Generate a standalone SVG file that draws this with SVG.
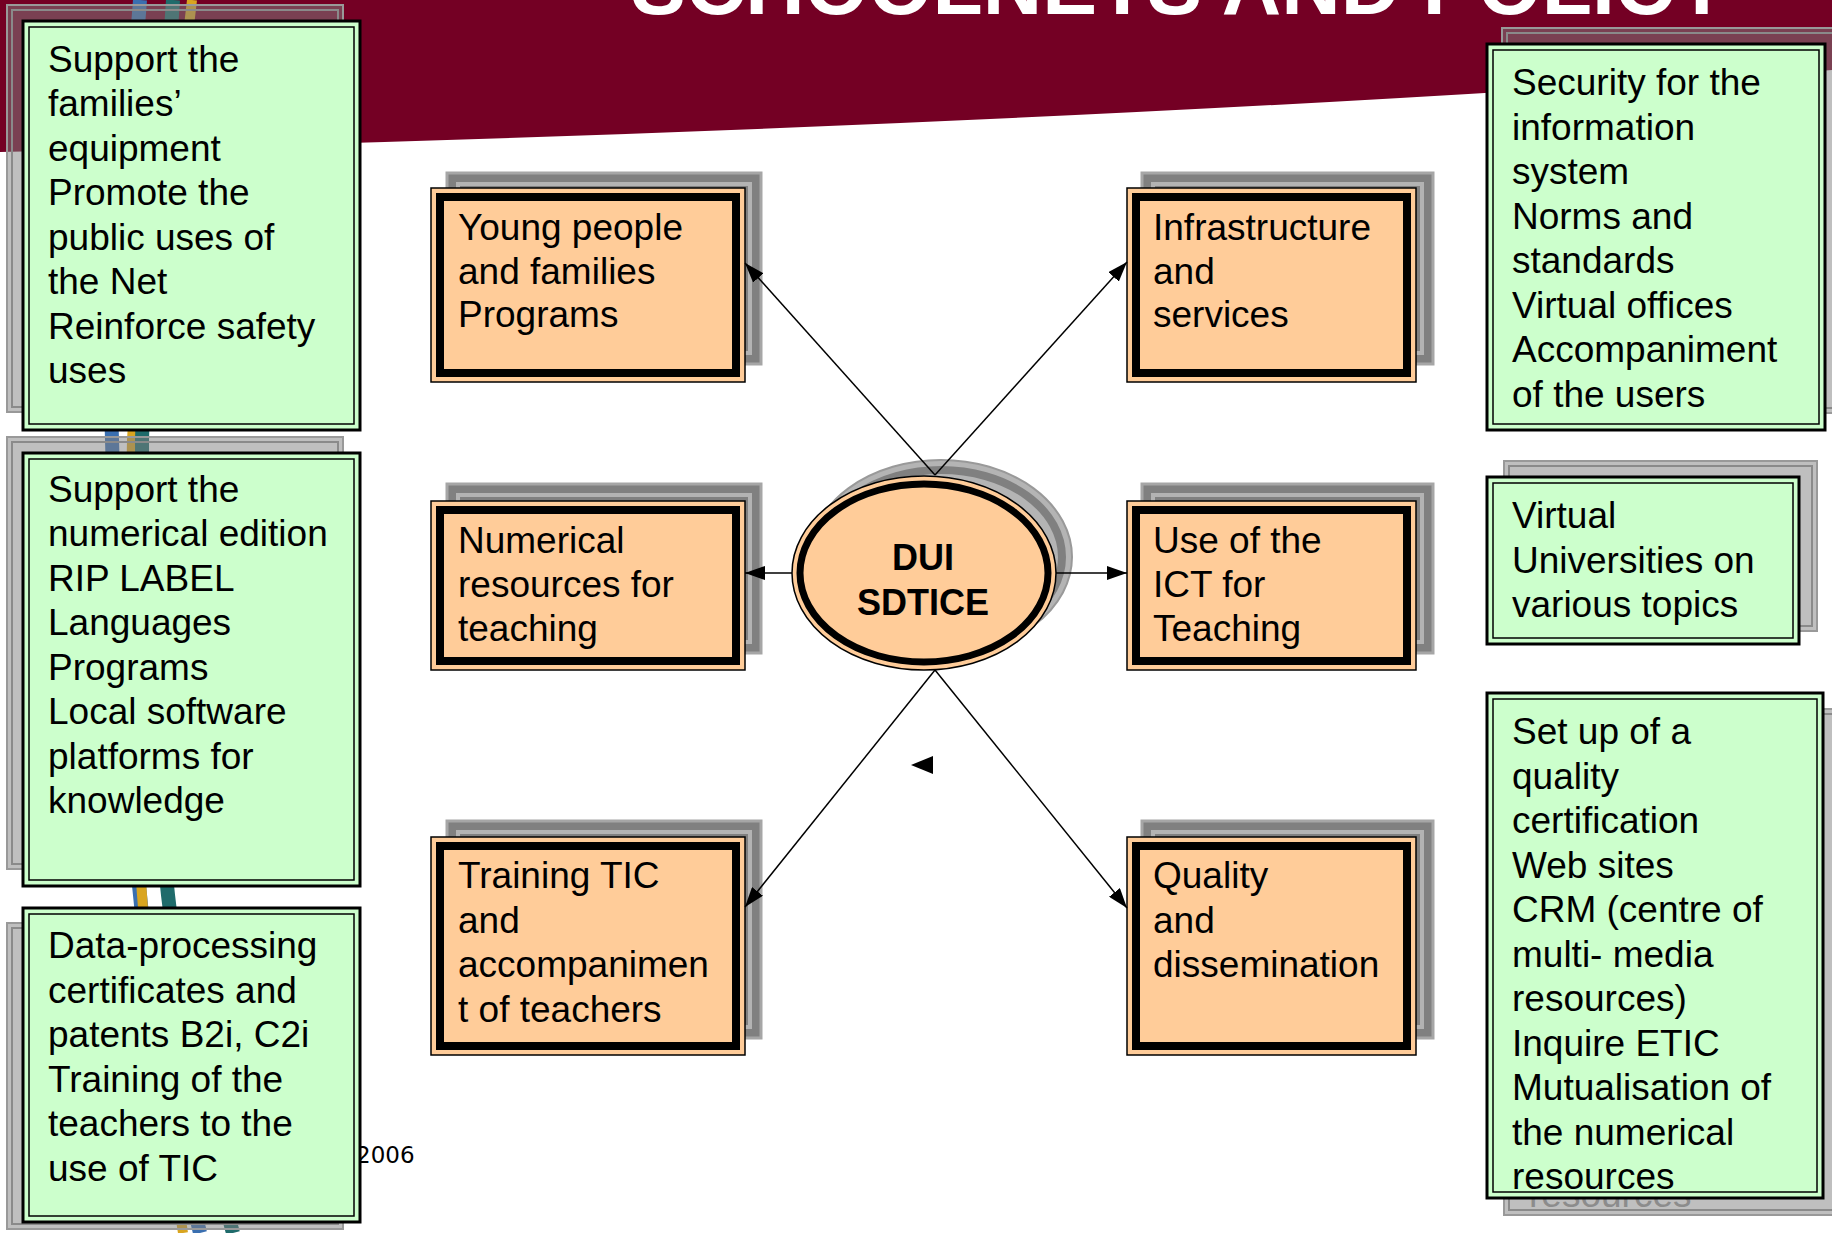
<svg xmlns="http://www.w3.org/2000/svg" width="1832" height="1233" viewBox="0 0 1832 1233">
<defs>
<style>
.t{font-family:"Liberation Sans",Arial,sans-serif;font-size:37px;fill:#000}
.tb{font-family:"Liberation Sans",Arial,sans-serif;font-size:36px;font-weight:bold;fill:#000}
.gsh{fill:#808080;fill-opacity:.5;stroke:#999;stroke-width:2}
.gshi{fill:none;stroke:#8a8a8a;stroke-width:2}
.gb{fill:#CCFFCC;stroke:#000;stroke-width:3}
.gbi{fill:none;stroke:#000;stroke-width:1.5}
.osh{fill:#808080;stroke:#A6A6A6;stroke-width:3}
.oshi{fill:none;stroke:#B3B3B3;stroke-width:4}
.ob{fill:#FFCC99;stroke:#000;stroke-width:1.5}
.obi{fill:none;stroke:#000;stroke-width:8}
.c{stroke:#000;stroke-width:1.5;fill:none}
</style>
<marker id="ah" markerUnits="userSpaceOnUse" markerWidth="20" markerHeight="14" refX="20" refY="7" orient="auto">
<path d="M0,0 L20,7 L0,14 Z" fill="#000"/>
</marker>
</defs>
<rect x="0" y="0" width="1832" height="1233" fill="#fff"/>
<path d="M0,0 H1832 V70 Q1000,130 0,152 Z" fill="#740024"/>
<text x="631" y="14" textLength="1098" lengthAdjust="spacingAndGlyphs" style="font-family:'Liberation Sans',Arial,sans-serif;font-size:82px;font-weight:bold;fill:#fff">SCHOOLNETS AND POLICY</text>
<path d="M1640,1196 Q1730,1186 1800,1196" fill="none" stroke="#d9a0a8" stroke-width="6"/>
<g id="cables" fill="none">
<path d="M140,0 C125,200 108,330 112,440 C116,600 130,800 140,895 C150,1000 180,1150 200,1233" stroke="#3A6FB0" stroke-width="14"/>
<path d="M192,0 C170,200 138,330 132,440 C128,600 135,800 142,895 C150,1000 170,1150 183,1233" stroke="#D9A520" stroke-width="10"/>
<path d="M173,0 C160,200 145,330 142,440 C142,600 158,800 168,895 C180,1000 210,1150 233,1233" stroke="#1F6B6B" stroke-width="14"/>
</g>
<text x="356" y="1163" style="font-family:'DejaVu Sans',sans-serif;font-size:23px;fill:#000">2006</text>
<g id="node-families">
<rect class="gsh" x="7" y="5" width="336" height="407"/>
<rect class="gshi" x="12" y="10" width="326" height="397"/>
<rect class="gb" x="23" y="21" width="337" height="409"/>
<rect class="gbi" x="29" y="27" width="325" height="397"/>
<text class="t"><tspan x="48" y="71.7">Support the</tspan><tspan x="48" y="116">families’</tspan><tspan x="48" y="160.5">equipment</tspan><tspan x="48" y="205">Promote the</tspan><tspan x="48" y="249.5">public uses of</tspan><tspan x="48" y="294">the Net</tspan><tspan x="48" y="338.5">Reinforce safety</tspan><tspan x="48" y="383">uses</tspan></text>
</g>
<g id="node-edition">
<rect class="gsh" x="7" y="437" width="336" height="432"/>
<rect class="gshi" x="12" y="442" width="326" height="422"/>
<rect class="gb" x="23" y="453" width="337" height="433"/>
<rect class="gbi" x="29" y="459" width="325" height="421"/>
<text class="t"><tspan x="48" y="501.7">Support the</tspan><tspan x="48" y="546.2">numerical edition</tspan><tspan x="48" y="590.7">RIP LABEL</tspan><tspan x="48" y="635.2">Languages</tspan><tspan x="48" y="679.7">Programs</tspan><tspan x="48" y="724.2">Local software</tspan><tspan x="48" y="768.7">platforms for</tspan><tspan x="48" y="813.2">knowledge</tspan></text>
</g>
<g id="node-certificates">
<rect class="gsh" x="7" y="923" width="336" height="306"/>
<rect class="gshi" x="12" y="928" width="326" height="296"/>
<rect class="gb" x="23" y="908" width="337" height="314"/>
<rect class="gbi" x="29" y="914" width="325" height="302"/>
<text class="t"><tspan x="48" y="958">Data-processing</tspan><tspan x="48" y="1002.5">certificates and</tspan><tspan x="48" y="1047">patents B2i, C2i</tspan><tspan x="48" y="1091.5">Training of the</tspan><tspan x="48" y="1136">teachers to the</tspan><tspan x="48" y="1180.5">use of TIC</tspan></text>
</g>
<g id="node-security">
<rect class="gsh" x="1502" y="28" width="340" height="385"/>
<rect class="gshi" x="1507" y="33" width="330" height="375"/>
<rect class="gb" x="1487" y="44" width="338" height="386"/>
<rect class="gbi" x="1493" y="50" width="326" height="374"/>
<text class="t"><tspan x="1512" y="95">Security for the</tspan><tspan x="1512" y="139.5">information</tspan><tspan x="1512" y="184">system</tspan><tspan x="1512" y="228.5">Norms and</tspan><tspan x="1512" y="273">standards</tspan><tspan x="1512" y="317.5">Virtual offices</tspan><tspan x="1512" y="362">Accompaniment</tspan><tspan x="1512" y="406.5">of the users</tspan></text>
</g>
<g id="node-virtual">
<rect class="gsh" x="1504" y="461" width="313" height="170"/>
<rect class="gshi" x="1509" y="466" width="303" height="160"/>
<rect class="gb" x="1487" y="477" width="312" height="167"/>
<rect class="gbi" x="1493" y="483" width="300" height="155"/>
<text class="t"><tspan x="1512" y="528">Virtual</tspan><tspan x="1512" y="572.5">Universities on</tspan><tspan x="1512" y="617">various topics</tspan></text>
</g>
<g id="node-quality-cert">
<rect class="gsh" x="1504" y="709" width="340" height="506"/>
<rect class="gshi" x="1509" y="714" width="330" height="496"/>
<text class="t" style="fill:#8c8c8c" x="1529" y="1207">resources</text>
<rect class="gb" x="1487" y="693" width="336" height="505"/>
<rect class="gbi" x="1493" y="699" width="324" height="493"/>
<text class="t"><tspan x="1512" y="744">Set up of a</tspan><tspan x="1512" y="788.5">quality</tspan><tspan x="1512" y="833">certification</tspan><tspan x="1512" y="877.5">Web sites</tspan><tspan x="1512" y="922">CRM (centre of</tspan><tspan x="1512" y="966.5">multi- media</tspan><tspan x="1512" y="1011">resources)</tspan><tspan x="1512" y="1055.5">Inquire ETIC</tspan><tspan x="1512" y="1100">Mutualisation of</tspan><tspan x="1512" y="1144.5">the numerical</tspan><tspan x="1512" y="1189">resources</tspan></text>
</g>
<g id="node-young">
<rect class="osh" x="447" y="173" width="314" height="191"/>
<rect class="oshi" x="458" y="184" width="292" height="169"/>
<rect class="ob" x="431" y="188" width="314" height="194"/>
<rect class="obi" x="440" y="197" width="296" height="176"/>
<text class="t"><tspan x="458" y="240">Young people</tspan><tspan x="458" y="283.5">and families</tspan><tspan x="458" y="327">Programs</tspan></text>
</g>
<g id="node-numerical">
<rect class="osh" x="447" y="484" width="314" height="169"/>
<rect class="oshi" x="458" y="495" width="292" height="147"/>
<rect class="ob" x="431" y="501" width="314" height="169"/>
<rect class="obi" x="440" y="510" width="296" height="151"/>
<text class="t"><tspan x="458" y="553">Numerical</tspan><tspan x="458" y="597">resources for</tspan><tspan x="458" y="641">teaching</tspan></text>
</g>
<g id="node-training">
<rect class="osh" x="447" y="821" width="314" height="217"/>
<rect class="oshi" x="458" y="832" width="292" height="195"/>
<rect class="ob" x="431" y="837" width="314" height="218"/>
<rect class="obi" x="440" y="846" width="296" height="200"/>
<text class="t"><tspan x="458" y="888">Training TIC</tspan><tspan x="458" y="932.5">and</tspan><tspan x="458" y="977">accompanimen</tspan><tspan x="458" y="1021.5">t of teachers</tspan></text>
</g>
<g id="node-infrastructure">
<rect class="osh" x="1142" y="173" width="291" height="191"/>
<rect class="oshi" x="1153" y="184" width="269" height="169"/>
<rect class="ob" x="1127" y="188" width="289" height="194"/>
<rect class="obi" x="1136" y="197" width="271" height="176"/>
<text class="t"><tspan x="1153" y="240">Infrastructure</tspan><tspan x="1153" y="283.5">and</tspan><tspan x="1153" y="327">services</tspan></text>
</g>
<g id="node-ict">
<rect class="osh" x="1142" y="484" width="291" height="169"/>
<rect class="oshi" x="1153" y="495" width="269" height="147"/>
<rect class="ob" x="1127" y="501" width="289" height="169"/>
<rect class="obi" x="1136" y="510" width="271" height="151"/>
<text class="t"><tspan x="1153" y="553">Use of the</tspan><tspan x="1153" y="597">ICT for</tspan><tspan x="1153" y="641">Teaching</tspan></text>
</g>
<g id="node-quality">
<rect class="osh" x="1142" y="821" width="291" height="217"/>
<rect class="oshi" x="1153" y="832" width="269" height="195"/>
<rect class="ob" x="1127" y="837" width="289" height="218"/>
<rect class="obi" x="1136" y="846" width="271" height="200"/>
<text class="t"><tspan x="1153" y="888">Quality</tspan><tspan x="1153" y="932.5">and</tspan><tspan x="1153" y="977">dissemination</tspan></text>
</g>
<g id="node-dui">
<ellipse cx="941" cy="557" rx="131" ry="97" fill="#B4B4B4" stroke="#999" stroke-width="2"/>
<ellipse cx="941" cy="557" rx="121" ry="87" fill="none" stroke="#808080" stroke-width="8"/>
<ellipse cx="924" cy="573" rx="132" ry="97" fill="#FFCC99" stroke="#000" stroke-width="1.5"/>
<ellipse cx="924" cy="573" rx="124" ry="89" fill="none" stroke="#000" stroke-width="7"/>
<text class="tb" text-anchor="middle"><tspan x="923" y="570">DUI</tspan><tspan x="923" y="615">SDTICE</tspan></text>
</g>
<g id="connectors">
<line class="c" x1="935" y1="475" x2="745" y2="263" marker-end="url(#ah)"/>
<line class="c" x1="935" y1="475" x2="1127" y2="262" marker-end="url(#ah)"/>
<line class="c" x1="792" y1="573" x2="745" y2="573" marker-end="url(#ah)"/>
<line class="c" x1="1056" y1="573" x2="1127" y2="573" marker-end="url(#ah)"/>
<line class="c" x1="935" y1="670" x2="745" y2="907" marker-end="url(#ah)"/>
<line class="c" x1="935" y1="670" x2="1127" y2="908" marker-end="url(#ah)"/>
<path d="M911,765 L933,756 L933,774 Z" fill="#000"/>
</g>
</svg>
